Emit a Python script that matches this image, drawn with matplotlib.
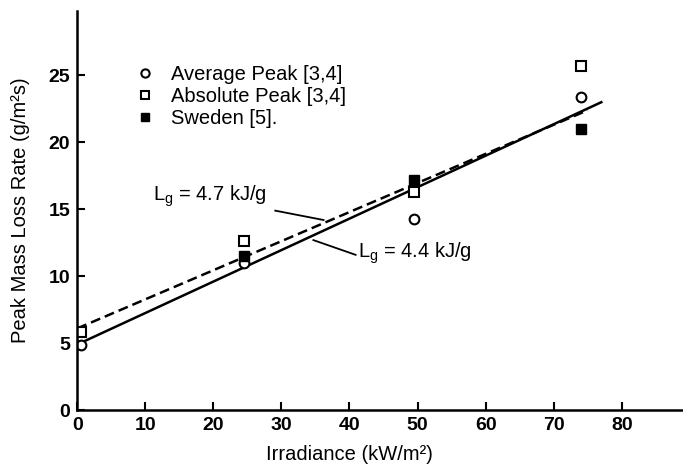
import matplotlib.pyplot as plt
import numpy as np

plt.rcParams['font.family'] = ['Liberation Sans', 'DejaVu Sans']

# measured points
irr = np.array([0.5, 24.5, 49.5, 74.0])
avg_peak = np.array([4.9, 11.0, 14.3, 23.4])
abs_peak = np.array([5.8, 12.6, 16.3, 25.7])
swe_irr = np.array([24.5, 49.5, 74.0])
sweden = np.array([11.5, 17.2, 21.0])

# fitted lines (end points)
fit44_x = np.array([0.0, 77.0])
fit44_y = np.array([4.9, 23.0])
fit47_x = np.array([0.0, 75.0])
fit47_y = np.array([6.1, 22.4])

xticks = [0, 10, 20, 30, 40, 50, 60, 70, 80]
yticks = [0, 5, 10, 15, 20, 25]


def main():
    fig = plt.figure(figsize=(6.83, 4.65), dpi=100)
    ax = fig.add_axes([0.113, 0.118, 0.887, 0.858])

    ax.plot(fit44_x, fit44_y, color='black', lw=1.8)
    ax.plot(fit47_x, fit47_y, color='black', lw=1.8, linestyle=(0, (4, 2)))

    ax.plot(irr, avg_peak, 'o', ms=7, mfc='white', mec='black', mew=1.5,
            label='Average Peak [3,4]')
    ax.plot(irr, abs_peak, 's', ms=7, mfc='white', mec='black', mew=1.5,
            label='Absolute Peak [3,4]')
    ax.plot(swe_irr, sweden, 's', ms=7, mfc='black', mec='black',
            label='Sweden [5].')

    ax.legend(loc='upper left', bbox_to_anchor=(0.082, 0.885), frameon=False,
              fontsize=14.5, handlelength=1.0, handletextpad=0.8,
              labelspacing=0.15, borderaxespad=0, markerscale=0.85)

    # line labels with leader lines
    ax.text(11.2, 16.0, r'$\mathregular{L_g}$ = 4.7 kJ/g', fontsize=14.5,
            va='center', ha='left')
    ax.plot([29.1, 36.2], [14.9, 14.2], color='black', lw=1.3)
    ax.text(41.3, 11.7, r'$\mathregular{L_g}$ = 4.4 kJ/g', fontsize=14.5,
            va='center', ha='left')
    ax.plot([34.7, 40.9], [12.7, 11.6], color='black', lw=1.3)

    ax.set_xlim(0, 89)
    ax.set_ylim(0, 29.8)
    ax.set_xticks(xticks)
    ax.set_yticks(yticks)
    ax.tick_params(direction='in', length=6, width=1.5, labelsize=14, pad=5)
    for lab in ax.get_xticklabels() + ax.get_yticklabels():
        lab.set_fontweight('bold')

    for side in ['top', 'right']:
        ax.spines[side].set_visible(False)
    for side in ['left', 'bottom']:
        ax.spines[side].set_linewidth(1.8)

    ax.set_xlabel('Irradiance (kW/m²)', fontsize=14.5)
    ax.xaxis.set_label_coords(0.45, -0.088)
    ax.set_ylabel('Peak Mass Loss Rate (g/m²s)', fontsize=14.5)
    ax.yaxis.set_label_coords(-0.078, 0.5)

    fig.savefig('out.png', dpi=100)
    plt.close(fig)


if __name__ == "__main__":
    main()
